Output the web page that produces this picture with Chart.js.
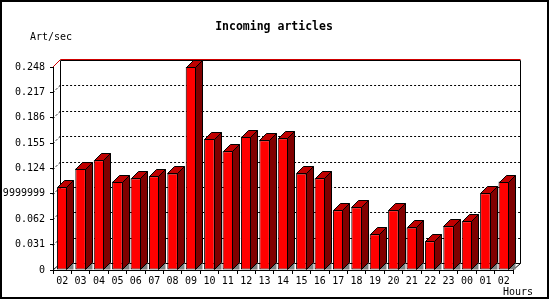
<!DOCTYPE html>
<html>
<head>
<meta charset="utf-8">
<script src="https://cdn.jsdelivr.net/npm/chart.js@4.4.1/dist/chart.umd.min.js"></script>
<style>
  body { margin: 0; background: #fff; }
  #wrap { width: 550px; height: 300px; }
</style>
</head>
<body>
<div id="wrap"><canvas id="myChart" width="550" height="300"></canvas></div>
<script>
const hours = ['02', '03', '04', '05', '06', '07', '08', '09', '10', '11', '12', '13',
    '14', '15', '16', '17', '18', '19', '20', '21', '22', '23', '00', '01', '02'];
const articlesPerSec = [0.101, 0.124, 0.134, 0.108, 0.112, 0.1145, 0.118, 0.248, 0.160, 0.145,
    0.163, 0.1585, 0.161, 0.118, 0.112, 0.073, 0.0766, 0.0436, 0.073, 0.052, 0.035, 0.0534,
    0.0595, 0.0937, 0.108];
const tickValues = [0, 0.031, 0.062, 0.093, 0.124, 0.155, 0.186, 0.217, 0.248];
const tickLabels = ['0', '0.031', '0.062', '0.0929999999', '0.124', '0.155', '0.186', '0.217', '0.248'];

const depth = 7;
const mono = '"DejaVu Sans Mono", "Liberation Mono", monospace';

function poly(ctx, pts, fill) {
    ctx.beginPath();
    ctx.moveTo(pts[0][0], pts[0][1]);
    for (let i = 1; i < pts.length; i++) ctx.lineTo(pts[i][0], pts[i][1]);
    ctx.closePath();
    if (fill) {
        ctx.fillStyle = fill;
        ctx.fill();
    }
}

function line(ctx, x1, y1, x2, y2) {
    ctx.beginPath();
    ctx.moveTo(x1, y1);
    ctx.lineTo(x2, y2);
    ctx.stroke();
}

// back walls, floor and dotted grid
const wallPlugin = {
    id: 'walls',
    beforeDatasetsDraw(chart) {
        const ctx = chart.ctx;
        const a = chart.chartArea;
        const y = chart.scales.y;
        ctx.save();
        ctx.lineWidth = 1;
        ctx.strokeStyle = '#000';

        ctx.setLineDash([2, 2]);
        for (let i = 1; i < tickValues.length - 1; i++) {
            const yy = Math.round(y.getPixelForValue(tickValues[i])) + 0.5;
            ctx.beginPath();
            ctx.moveTo(a.left, yy);
            ctx.lineTo(a.left + depth, yy - depth);
            ctx.lineTo(a.right + depth, yy - depth);
            ctx.stroke();
        }
        ctx.setLineDash([]);

        const L = a.left + depth + 0.5;
        const R = a.right + depth + 0.5;
        const T = a.top - depth + 0.5;
        const B = a.bottom - depth + 0.5;
        line(ctx, L, T, L, B);
        line(ctx, R, T, R, B);
        line(ctx, L, T, R, T);
        line(ctx, L, B, R, B);
        line(ctx, a.left, a.bottom, L, B);
        line(ctx, a.right, a.bottom, R, B);

        ctx.strokeStyle = '#d00000';
        line(ctx, L, T - 1, R, T - 1);
        line(ctx, a.left, a.top, L, T - 1);
        ctx.restore();
    },
    afterDatasetsDraw(chart) {
        const ctx = chart.ctx;
        const meta = chart.getDatasetMeta(0);
        ctx.save();
        ctx.lineWidth = 1;
        ctx.strokeStyle = '#000';
        for (const bar of meta.data) {
            const l = Math.round(bar.x - bar.width / 2) + 0.5;
            const r = Math.round(bar.x + bar.width / 2) - 0.5;
            const t = Math.round(bar.y) + 0.5;
            const b = Math.round(bar.base) - 0.5;

            poly(ctx, [[r, b], [r + depth, b - depth], [r + depth, b]], '#808080');
            poly(ctx, [[r, t], [r + depth, t - depth], [r + depth, b - depth], [r, b]], '#800000');
            ctx.stroke();
            poly(ctx, [[l, t], [l + depth, t - depth], [r + depth, t - depth], [r, t]], '#c00000');
            ctx.stroke();
        }
        ctx.restore();
    }
};

// titles and frame
const textPlugin = {
    id: 'texts',
    afterDraw(chart) {
        const ctx = chart.ctx;
        ctx.save();
        ctx.fillStyle = '#000';
        ctx.textBaseline = 'middle';
        ctx.textAlign = 'center';
        ctx.font = 'bold 11.5px ' + mono;
        ctx.fillText('Incoming articles', 274, 27);
        ctx.textAlign = 'left';
        ctx.font = '10px ' + mono;
        ctx.fillText('Art/sec', 30, 37);
        ctx.fillText('Hours', 503, 292);
        ctx.lineWidth = 2;
        ctx.strokeStyle = '#000';
        ctx.strokeRect(1, 1, 547, 297);
        ctx.restore();
    },
    beforeDraw(chart) {
        const ctx = chart.ctx;
        ctx.save();
        ctx.fillStyle = '#fff';
        ctx.fillRect(0, 0, chart.width, chart.height);
        ctx.restore();
    }
};

const ctx = document.getElementById('myChart').getContext('2d');

const myChart = new Chart(ctx, { // eslint-disable-line
    type: 'bar',
    data: {
        labels: hours,
        datasets: [{
            label: 'Art/sec',
            data: articlesPerSec,
            backgroundColor: '#ff0000',
            borderColor: '#000000',
            borderWidth: 1,
            borderSkipped: false,
            barPercentage: 0.574,
            categoryPercentage: 1
        }]
    },
    options: {
        responsive: false,
        animation: false,
        devicePixelRatio: 1,
        layout: {
            padding: { top: 67, right: 37, bottom: 0, left: 0 }
        },
        plugins: {
            legend: { display: false },
            tooltip: { enabled: false },
            title: { display: false }
        },
        scales: {
            x: {
                afterFit: (scale) => { scale.height = 30; },
                grid: {
                    display: true,
                    offset: true,
                    drawOnChartArea: false,
                    drawTicks: true,
                    tickLength: 4,
                    color: '#000'
                },
                border: { display: true, color: '#000', width: 1 },
                ticks: {
                    color: '#000',
                    font: { family: mono, size: 10 },
                    padding: 1,
                    maxRotation: 0,
                    autoSkip: false
                }
            },
            y: {
                min: 0,
                max: 0.248,
                afterFit: (scale) => { scale.width = 53; },
                afterBuildTicks: (scale) => {
                    scale.ticks = tickValues.map(v => ({ value: v }));
                },
                grid: {
                    display: true,
                    drawOnChartArea: false,
                    drawTicks: true,
                    tickLength: 3,
                    color: '#000'
                },
                border: { display: true, color: '#000', width: 1 },
                ticks: {
                    color: '#000',
                    font: { family: mono, size: 10 },
                    padding: 5,
                    callback: (value, index) => tickLabels[index]
                }
            }
        }
    },
    plugins: [wallPlugin, textPlugin]
});
</script>
</body>
</html>
